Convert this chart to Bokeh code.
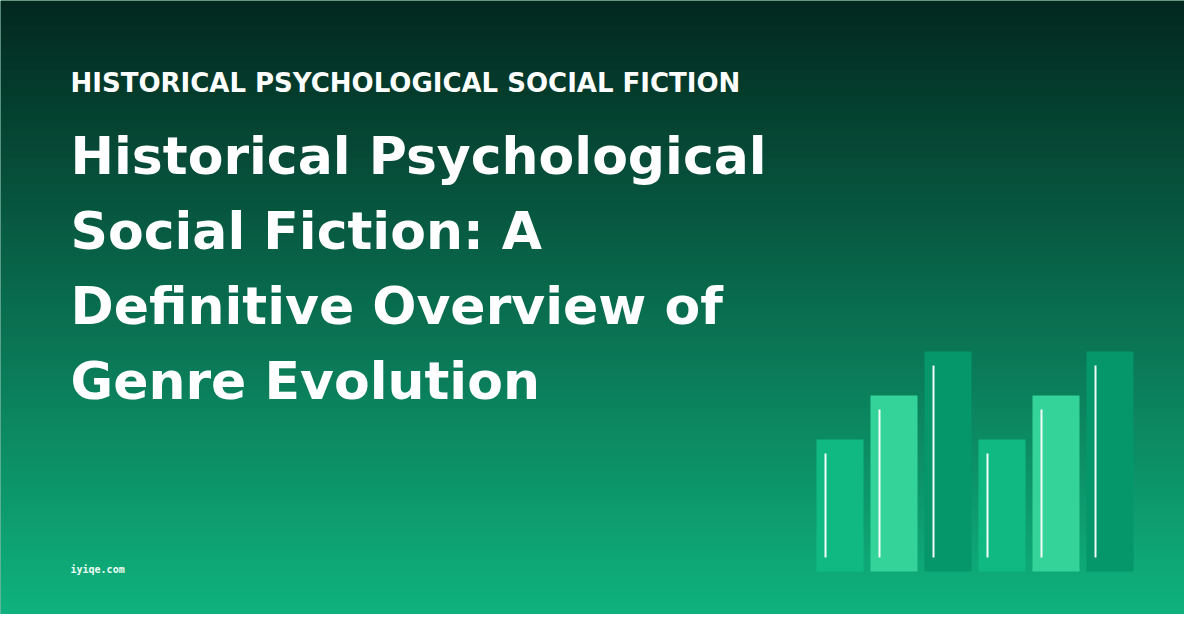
import numpy as np
from bokeh.plotting import figure
from bokeh.models import Range1d, ColumnDataSource
from bokeh.core.properties import value
from bokeh.embed import file_html
from bokeh.resources import INLINE

# ---- data ----
kicker = "HISTORICAL PSYCHOLOGICAL SOCIAL FICTION"
title_lines = ["Historical Psychological", "Social Fiction: A", "Definitive Overview of", "Genre Evolution"]
footer = "iyiqe.com"
bar_values = [0.6, 0.8, 1.0, 0.6, 0.8, 1.0]
bar_colors = ["#10b981", "#34d399", "#059669", "#10b981", "#34d399", "#059669"]

# ---- layout (page pixels, 1:1 with reference) ----
W, H = 1200, 630
PW, PH = 1184, 614
p = figure(width=PW, height=PH, output_backend="svg", toolbar_location=None,
           x_range=Range1d(0, PW), y_range=Range1d(PH, 0), min_border=0)
p.axis.visible = False
p.grid.visible = False
p.outline_line_color = None
p.background_fill_color = "#0a7855"
p.border_fill_color = "#0a7855"

# background gradient
top_c = np.array([3, 40, 31])
bot_c = np.array([16, 182, 128])
ys = np.arange(0, H, 1.0)
t = ys / (H - 1)
cols = ["#%02x%02x%02x" % tuple(int(round(v)) for v in (top_c * (1 - tt) + bot_c * tt)) for tt in t]
p.quad(left=0, right=W, top=ys, bottom=ys + 1.6, fill_color=cols, line_color=None)

# bars: own scales
base_y, full_h = 571.0, 220.0
pitch, x0c, bw = 54.0, 839.5, 47.0
p.extra_x_ranges = {"bx": Range1d((0 - x0c) / pitch, (PW - x0c) / pitch)}
p.extra_y_ranges = {"by": Range1d((base_y - PH) / full_h, base_y / full_h)}
idx = np.arange(len(bar_values))
src = ColumnDataSource(dict(x=idx, top=bar_values, color=bar_colors))
p.vbar(x="x", top="top", bottom=0, width=bw / pitch, fill_color="color", line_color=None,
       source=src, x_range_name="bx", y_range_name="by")
inset = 14.0 / full_h
lx = idx - 14.5 / pitch
p.segment(x0=lx, x1=lx, y0=np.array(bar_values) - inset, y1=inset, line_color="white",
          line_width=2, line_alpha=0.95, x_range_name="bx", y_range_name="by")

# texts
p.text(x=[70], y=[82], text=[kicker], text_color="white", text_font=value("DejaVu Sans"),
       text_font_style="bold", text_font_size="26px", text_baseline="alphabetic")
p.text(x=[70] * len(title_lines), y=[155 + 75 * i for i in range(len(title_lines))], text=title_lines,
       text_color="white", text_font=value("DejaVu Sans"), text_font_style="bold",
       text_font_size="52px", text_baseline="alphabetic")
p.text(x=[70], y=[569], text=[footer], text_color="#ecfdf5", text_font=value("DejaVu Sans Mono"),
       text_font_style="bold", text_font_size="10px", text_baseline="alphabetic")

open("out.html", "w").write(file_html(p, INLINE))
